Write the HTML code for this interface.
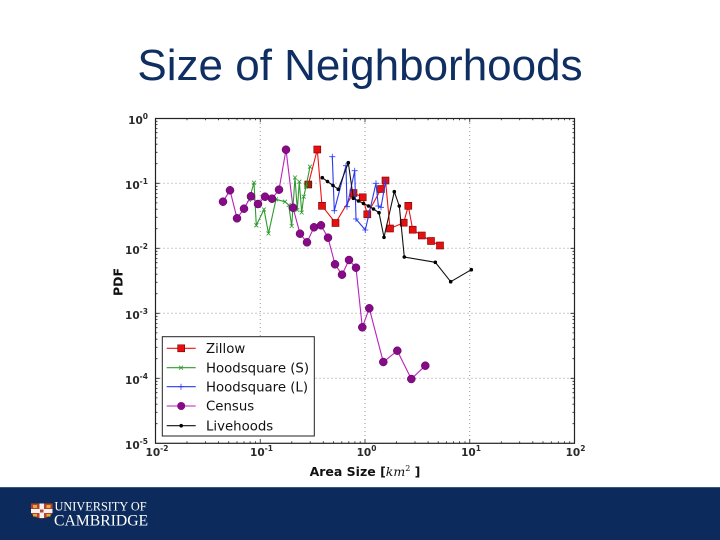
<!DOCTYPE html>
<html><head><meta charset="utf-8"><style>
html,body{margin:0;padding:0;background:#fff;}
body{width:720px;height:540px;overflow:hidden;position:relative;}
svg{position:absolute;left:0;top:0;}
</style></head><body>
<svg width="720" height="540" viewBox="0 0 720 540" xmlns="http://www.w3.org/2000/svg">
<rect x="0" y="0" width="720" height="540" fill="#fff"/>
<text x="360" y="80" text-anchor="middle" font-family="Liberation Sans, Arial, sans-serif" font-size="44" fill="#0f2f62">Size of Neighborhoods</text>

<!-- grid -->
<g stroke="#9a9a9a" stroke-width="1" stroke-dasharray="1,3" fill="none">
<path d="M260.25 119V443.3M365 119V443.3M469.75 119V443.3"/>
<path d="M155.5 183.3H574.5M155.5 248.3H574.5M155.5 313.3H574.5M155.5 378.3H574.5"/>
</g>

<!-- ticks -->
<g stroke="#222" stroke-width="0.8" fill="none">
<path d="M260.25 443.3v-4M365 443.3v-4M469.75 443.3v-4M260.25 118.3v4M365 118.3v4M469.75 118.3v4"/>
<path d="M155.5 183.3h4M155.5 248.3h4M155.5 313.3h4M155.5 378.3h4M574.5 183.3h-4M574.5 248.3h-4M574.5 313.3h-4M574.5 378.3h-4"/>
<path d="M187 443.3v-2M205.5 443.3v-2M218.6 443.3v-2M228.7 443.3v-2M237 443.3v-2M244 443.3v-2M250.1 443.3v-2M255.5 443.3v-2
M291.8 443.3v-2M310.2 443.3v-2M323.3 443.3v-2M333.5 443.3v-2M341.8 443.3v-2M348.8 443.3v-2M354.9 443.3v-2M360.2 443.3v-2
M396.5 443.3v-2M415 443.3v-2M428.1 443.3v-2M438.2 443.3v-2M446.5 443.3v-2M453.5 443.3v-2M459.6 443.3v-2M465 443.3v-2
M501.3 443.3v-2M519.7 443.3v-2M532.8 443.3v-2M543 443.3v-2M551.3 443.3v-2M558.3 443.3v-2M564.4 443.3v-2M569.7 443.3v-2"/>
<path d="M187 118.3v2M205.5 118.3v2M218.6 118.3v2M228.7 118.3v2M237 118.3v2M244 118.3v2M250.1 118.3v2M255.5 118.3v2
M291.8 118.3v2M310.2 118.3v2M323.3 118.3v2M333.5 118.3v2M341.8 118.3v2M348.8 118.3v2M354.9 118.3v2M360.2 118.3v2
M396.5 118.3v2M415 118.3v2M428.1 118.3v2M438.2 118.3v2M446.5 118.3v2M453.5 118.3v2M459.6 118.3v2M465 118.3v2
M501.3 118.3v2M519.7 118.3v2M532.8 118.3v2M543 118.3v2M551.3 118.3v2M558.3 118.3v2M564.4 118.3v2M569.7 118.3v2"/>
<path d="M155.5 423.7h2M155.5 412.3h2M155.5 404.2h2M155.5 397.9h2M155.5 392.7h2M155.5 388.4h2M155.5 384.6h2M155.5 381.3h2
M155.5 358.7h2M155.5 347.3h2M155.5 339.2h2M155.5 332.9h2M155.5 327.7h2M155.5 323.4h2M155.5 319.6h2M155.5 316.3h2
M155.5 293.7h2M155.5 282.3h2M155.5 274.2h2M155.5 267.9h2M155.5 262.7h2M155.5 258.4h2M155.5 254.6h2M155.5 251.3h2
M155.5 228.7h2M155.5 217.3h2M155.5 209.2h2M155.5 202.9h2M155.5 197.7h2M155.5 193.4h2M155.5 189.6h2M155.5 186.3h2
M155.5 163.7h2M155.5 152.3h2M155.5 144.2h2M155.5 137.9h2M155.5 132.7h2M155.5 128.4h2M155.5 124.6h2M155.5 121.3h2"/>
<path d="M574.5 423.7h-2M574.5 412.3h-2M574.5 404.2h-2M574.5 397.9h-2M574.5 392.7h-2M574.5 388.4h-2M574.5 384.6h-2M574.5 381.3h-2
M574.5 358.7h-2M574.5 347.3h-2M574.5 339.2h-2M574.5 332.9h-2M574.5 327.7h-2M574.5 323.4h-2M574.5 319.6h-2M574.5 316.3h-2
M574.5 293.7h-2M574.5 282.3h-2M574.5 274.2h-2M574.5 267.9h-2M574.5 262.7h-2M574.5 258.4h-2M574.5 254.6h-2M574.5 251.3h-2
M574.5 228.7h-2M574.5 217.3h-2M574.5 209.2h-2M574.5 202.9h-2M574.5 197.7h-2M574.5 193.4h-2M574.5 189.6h-2M574.5 186.3h-2
M574.5 163.7h-2M574.5 152.3h-2M574.5 144.2h-2M574.5 137.9h-2M574.5 132.7h-2M574.5 128.4h-2M574.5 124.6h-2M574.5 121.3h-2"/>
</g>

<!-- Zillow -->
<g>
<polyline fill="none" stroke="#f01010" stroke-width="1.1" points="308.3,184.5 317.3,149.5 322,205.8 335.5,223 353.5,193 362.7,197.3 367.3,214.3 381,189 385.5,180.5 390,228.5 403.7,222.7 408.3,205.8 412.7,229.7 421.8,235.5 431,241 440,245.5"/>
<g fill="#e51010" stroke="#700" stroke-width="0.6">
<rect x="304.8" y="181" width="7" height="7" fill="#8a2a10"/>
<rect x="313.8" y="146" width="7" height="7"/>
<rect x="318.5" y="202.3" width="7" height="7"/>
<rect x="332" y="219.5" width="7" height="7"/>
<rect x="350" y="189.5" width="7" height="7"/>
<rect x="359.2" y="193.8" width="7" height="7"/>
<rect x="363.8" y="210.8" width="7" height="7"/>
<rect x="377.5" y="185.5" width="7" height="7"/>
<rect x="382" y="177" width="7" height="7"/>
<rect x="386.5" y="225" width="7" height="7"/>
<rect x="400.2" y="219.2" width="7" height="7"/>
<rect x="404.8" y="202.3" width="7" height="7"/>
<rect x="409.2" y="226.2" width="7" height="7"/>
<rect x="418.3" y="232" width="7" height="7"/>
<rect x="427.5" y="237.5" width="7" height="7"/>
<rect x="436.5" y="242" width="7" height="7"/>
</g>
</g>

<!-- Hoodsquare S -->
<g stroke="#2f9a2f" fill="none">
<polyline stroke-width="1.1" points="249,200 254,182.7 256.3,225.3 264,209.5 268.5,233.5 276,199.3 285,201.7 288.7,205 291.7,226 295,177.5 297.3,210 299.3,181.7 301.7,212.5 303.7,196.7 306,186.7 310,166.7"/>
<path stroke-width="0.8" d="M247 198l4 4m0-4l-4 4M252 180.7l4 4m0-4l-4 4M254.3 223.3l4 4m0-4l-4 4M262 207.5l4 4m0-4l-4 4M266.5 231.5l4 4m0-4l-4 4M274 197.3l4 4m0-4l-4 4M283 199.7l4 4m0-4l-4 4M286.7 203l4 4m0-4l-4 4M289.7 224l4 4m0-4l-4 4M293 175.5l4 4m0-4l-4 4M295.3 208l4 4m0-4l-4 4M297.3 179.7l4 4m0-4l-4 4M299.7 210.5l4 4m0-4l-4 4M301.7 194.7l4 4m0-4l-4 4M304 184.7l4 4m0-4l-4 4M308 164.7l4 4m0-4l-4 4"/>
</g>

<!-- Hoodsquare L -->
<g stroke="#2a3af0" fill="none">
<polyline stroke-width="1.1" points="332.3,156.7 334.3,210.7 346,165.7 347,206.7 354.7,170.7 356,219 365.3,230 376,183.3 378.3,206 381,207.3 385.5,182"/>
<path stroke-width="0.8" d="M329.3 156.7h6m-3-3v6M331.3 210.7h6m-3-3v6M343 165.7h6m-3-3v6M344 206.7h6m-3-3v6M351.7 170.7h6m-3-3v6M353 219h6m-3-3v6M362.3 230h6m-3-3v6M373 183.3h6m-3-3v6M375.3 206h6m-3-3v6M378 207.3h6m-3-3v6M382.5 182h6m-3-3v6"/>
</g>

<!-- Census -->
<g>
<polyline fill="none" stroke="#bb22bb" stroke-width="1.1" points="223,201.7 230,190.3 237,218.3 244,208.7 251,196.3 258,204 265,196.7 272,198.7 279,189.7 286,149.7 293,207.7 300,233.7 307,242.3 314,227.3 321,225.3 328,237.7 335,264.3 342,274.7 349,260 356,267.7 362.3,327.3 369.3,308.3 383.3,362 397.3,350.7 411.3,379 425.3,365.7"/>
<g fill="#870a87" stroke="#5a005a" stroke-width="0.5">
<circle cx="223" cy="201.7" r="4"/><circle cx="230" cy="190.3" r="4"/><circle cx="237" cy="218.3" r="4"/><circle cx="244" cy="208.7" r="4"/><circle cx="251" cy="196.3" r="4"/><circle cx="258" cy="204" r="4"/><circle cx="265" cy="196.7" r="4"/><circle cx="272" cy="198.7" r="4"/><circle cx="279" cy="189.7" r="4"/><circle cx="286" cy="149.7" r="4"/><circle cx="293" cy="207.7" r="4"/><circle cx="300" cy="233.7" r="4"/><circle cx="307" cy="242.3" r="4"/><circle cx="314" cy="227.3" r="4"/><circle cx="321" cy="225.3" r="4"/><circle cx="328" cy="237.7" r="4"/><circle cx="335" cy="264.3" r="4"/><circle cx="342" cy="274.7" r="4"/><circle cx="349" cy="260" r="4"/><circle cx="356" cy="267.7" r="4"/><circle cx="362.3" cy="327.3" r="4"/><circle cx="369.3" cy="308.3" r="4"/><circle cx="383.3" cy="362" r="4"/><circle cx="397.3" cy="350.7" r="4"/><circle cx="411.3" cy="379" r="4"/><circle cx="425.3" cy="365.7" r="4"/>
</g>
</g>

<!-- Livehoods -->
<g>
<polyline fill="none" stroke="#111" stroke-width="1.1" points="322.3,177.7 327.5,181.5 333,185.5 338.3,189.3 348.3,162.7 353.3,198.3 358.5,201 363.5,203.5 368.5,206 373.5,209 379,212.7 384,237.3 394.3,191.7 399.3,206 404.3,257 435.3,262.3 450.7,281.7 471.3,269.7"/>
<g fill="#000">
<circle cx="322.3" cy="177.7" r="1.8"/><circle cx="327.5" cy="181.5" r="1.8"/><circle cx="333" cy="185.5" r="1.8"/><circle cx="338.3" cy="189.3" r="1.8"/><circle cx="348.3" cy="162.7" r="1.8"/><circle cx="353.3" cy="198.3" r="1.8"/><circle cx="358.5" cy="201" r="1.8"/><circle cx="363.5" cy="203.5" r="1.8"/><circle cx="368.5" cy="206" r="1.8"/><circle cx="373.5" cy="209" r="1.8"/><circle cx="379" cy="212.7" r="1.8"/><circle cx="384" cy="237.3" r="1.8"/><circle cx="394.3" cy="191.7" r="1.8"/><circle cx="399.3" cy="206" r="1.8"/><circle cx="404.3" cy="257" r="1.8"/><circle cx="435.3" cy="262.3" r="1.8"/><circle cx="450.7" cy="281.7" r="1.8"/><circle cx="471.3" cy="269.7" r="1.8"/>
</g>
</g>

<!-- frame -->
<rect x="155.5" y="118.5" width="419" height="324.8" fill="none" stroke="#222" stroke-width="1.2"/>

<!-- legend -->
<rect x="162.3" y="336.7" width="152" height="99.3" fill="#fff" stroke="#222" stroke-width="1"/>
<g font-family="DejaVu Sans, Liberation Sans, sans-serif" font-size="13.3" fill="#111">
<line x1="166.7" y1="348.3" x2="195.7" y2="348.3" stroke="#f01010" stroke-width="1.1"/>
<rect x="177.7" y="344.8" width="7" height="7" fill="#e51010" stroke="#700" stroke-width="0.6"/>
<text x="206" y="353">Zillow</text>
<line x1="166.7" y1="367.7" x2="195.7" y2="367.7" stroke="#2f9a2f" stroke-width="1.1"/>
<path d="M179 365.7l4 4m0-4l-4 4" stroke="#2f9a2f" stroke-width="0.8"/>
<text x="206" y="372.4">Hoodsquare (S)</text>
<line x1="166.7" y1="386.7" x2="195.7" y2="386.7" stroke="#2a3af0" stroke-width="1.1"/>
<path d="M178 386.7h6m-3-3v6" stroke="#2a3af0" stroke-width="0.8"/>
<text x="206" y="391.4">Hoodsquare (L)</text>
<line x1="166.7" y1="406" x2="195.7" y2="406" stroke="#bb22bb" stroke-width="1.1"/>
<circle cx="181.2" cy="406" r="4" fill="#870a87"/>
<text x="206" y="410.7">Census</text>
<line x1="166.7" y1="425.7" x2="195.7" y2="425.7" stroke="#111" stroke-width="1.1"/>
<circle cx="181.2" cy="425.7" r="1.8" fill="#000"/>
<text x="206" y="430.4">Livehoods</text>
</g>

<!-- y tick labels -->
<g font-family="DejaVu Sans, Liberation Sans, sans-serif" font-weight="bold" font-size="10.5" fill="#2a2a2a" text-anchor="end">
<text x="148" y="124">10<tspan dy="-5" font-size="7.5">0</tspan></text>
<text x="148" y="189">10<tspan dy="-5" font-size="7.5">-1</tspan></text>
<text x="148" y="254">10<tspan dy="-5" font-size="7.5">-2</tspan></text>
<text x="148" y="319">10<tspan dy="-5" font-size="7.5">-3</tspan></text>
<text x="148" y="384">10<tspan dy="-5" font-size="7.5">-4</tspan></text>
<text x="148" y="449">10<tspan dy="-5" font-size="7.5">-5</tspan></text>
</g>
<!-- x tick labels -->
<g font-family="DejaVu Sans, Liberation Sans, sans-serif" font-weight="bold" font-size="10.5" fill="#2a2a2a" text-anchor="middle">
<text x="157" y="456">10<tspan dy="-5" font-size="7.5">-2</tspan></text>
<text x="261.5" y="456">10<tspan dy="-5" font-size="7.5">-1</tspan></text>
<text x="366.5" y="456">10<tspan dy="-5" font-size="7.5">0</tspan></text>
<text x="471" y="456">10<tspan dy="-5" font-size="7.5">1</tspan></text>
<text x="575.5" y="456">10<tspan dy="-5" font-size="7.5">2</tspan></text>
</g>

<!-- axis labels -->
<text x="365" y="476" text-anchor="middle" font-family="DejaVu Sans, Liberation Sans, sans-serif" font-weight="bold" font-size="12.5" fill="#111">Area Size [<tspan font-weight="normal" font-style="italic" font-family="DejaVu Serif, Liberation Serif, serif">km</tspan><tspan font-weight="normal" font-size="8" dy="-5" font-family="DejaVu Serif, Liberation Serif, serif">2</tspan><tspan dy="5"> ]</tspan></text>
<text transform="translate(122.5,282) rotate(-90)" text-anchor="middle" font-family="DejaVu Sans, Liberation Sans, sans-serif" font-weight="bold" font-size="12.5" fill="#111">PDF</text>

<!-- banner -->
<rect x="0" y="487" width="720" height="53" fill="#0c2b5c"/>
<rect x="0" y="487" width="720" height="1" fill="#3a5580"/>
<path d="M31 503.5h21.5v8c0 4-5 6.5-10.75 7c-5.75-0.5-10.75-3-10.75-7z" fill="#b8402c"/>
<rect x="39.5" y="503.5" width="4.5" height="14.5" fill="#f2f2f2"/>
<rect x="31" y="509" width="21.5" height="4" fill="#f2f2f2"/>
<rect x="33" y="505" width="4" height="3" fill="#e0b030"/>
<rect x="46.5" y="505" width="4" height="3" fill="#e0b030"/>
<rect x="33" y="514" width="4" height="2.5" fill="#e0b030"/>
<rect x="46.5" y="514" width="4" height="2.5" fill="#e0b030"/>
<rect x="40" y="509.5" width="3.5" height="3" fill="#b8402c"/>
<text x="54.5" y="510.3" font-family="Liberation Serif, serif" font-size="12.3" fill="#fff">UNIVERSITY OF</text>
<text x="54" y="525.7" font-family="Liberation Serif, serif" font-size="15.7" fill="#fff">CAMBRIDGE</text>
</svg>
</body></html>
